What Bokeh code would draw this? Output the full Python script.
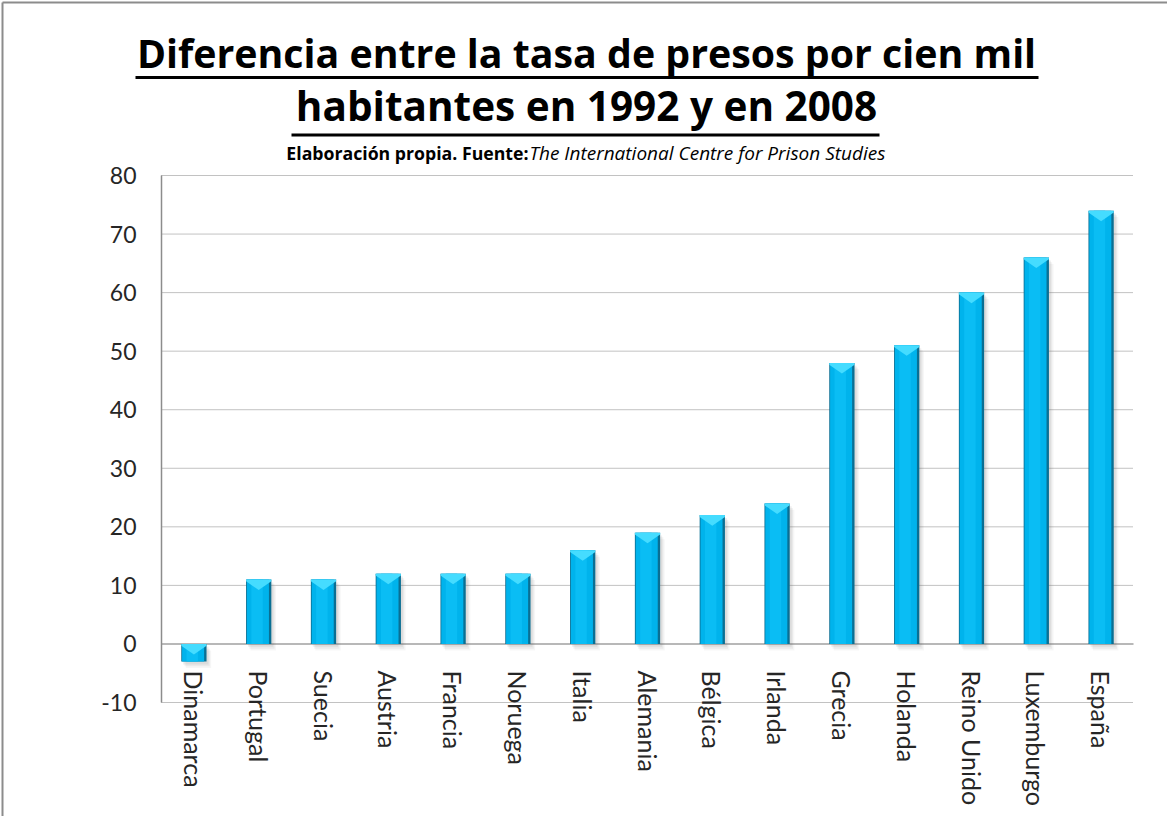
from bokeh.plotting import figure
from bokeh.models import Range1d, FixedTicker
from bokeh.core.properties import value
from bokeh.embed import file_html
from bokeh.resources import INLINE

# ---- data ----
categories = ["Dinamarca", "Portugal", "Suecia", "Austria", "Francia", "Noruega",
              "Italia", "Alemania", "Bélgica", "Irlanda", "Grecia", "Holanda",
              "Reino Unido", "Luxemburgo", "España"]
values = [-3, 11, 11, 12, 12, 12, 16, 19, 22, 24, 48, 51, 60, 66, 74]
y_ticks = [-10, 0, 10, 20, 30, 40, 50, 60, 70, 80]
title_line1 = "Diferencia entre la tasa de presos por cien mil"
title_line2 = "habitantes en 1992 y en 2008"
subtitle_bold = "Elaboración propia. Fuente:"
subtitle_italic = "The International Centre for Prison Studies"

# ---- layout constants (pixels on the page) ----
W, H = 1167, 816
AXIS_X = 161              # where the value axis sits
PLOT_RIGHT = 1133         # right end of the category band
TOP_TICK_Y = 175          # pixel of top tick
BOTTOM_TICK_Y = 702       # pixel of bottom tick
LABEL_TOP_Y = 670         # top of the category labels
TITLE_FONT = "Open Sans"
FONT = "Lato"

n = len(categories)
xs = list(range(1, n + 1))
cat_w = (PLOT_RIGHT - AXIS_X) / n
unit = (BOTTOM_TICK_Y - TOP_TICK_Y) / (y_ticks[-1] - y_ticks[0])


def X(px):
    return 0.5 + (px - AXIS_X) / cat_w


def Y(py):
    return y_ticks[0] + (BOTTOM_TICK_Y - py) / unit


p = figure(width=W, height=H, x_range=Range1d(X(0), X(W)), y_range=Range1d(Y(H), Y(0)),
           output_backend="svg", toolbar_location=None, min_border=0)
p.outline_line_color = None
p.grid.visible = False

x_lo, x_hi = 0.5, n + 0.5

# chart-area border (top and left edges)
p.segment(x0=[X(2), X(2)], y0=[Y(2), Y(2)], x1=[X(W), X(2)], y1=[Y(2), Y(H)],
          line_color="#8c8c8c", line_width=2)

# dotted gridlines (only across the category band)
grid_vals = [t for t in y_ticks if t != 0]
p.segment(x0=[x_lo] * len(grid_vals), y0=grid_vals, x1=[x_hi] * len(grid_vals), y1=grid_vals,
          line_color="#858585", line_dash="1 1", line_width=1)
# category axis line at zero
p.segment(x0=[x_lo], y0=[0], x1=[x_hi], y1=[0], line_color="#a0a0a0", line_width=1.5)

bw = 0.39
tops = [max(v, 0) for v in values]
bots = [min(v, 0) for v in values]

# soft shadow
for dx, dy, a in [(0.03, 0.5, 0.10), (0.05, 0.8, 0.08), (0.07, 1.1, 0.06)]:
    p.vbar(x=[xi + dx for xi in xs], top=[t - dy for t in tops], bottom=[b - dy for b in bots],
           width=bw, fill_color="#606060", fill_alpha=a, line_color=None)

# bar body: dark edge, main fill, bright core
p.vbar(x=xs, top=tops, bottom=bots, width=bw, fill_color="#0a6f93", line_color=None)
p.vbar(x=[xi - 0.012 for xi in xs], top=tops, bottom=bots, width=bw - 0.05,
       fill_color="#00b3ec", line_color=None)
p.vbar(x=[xi - 0.025 for xi in xs], top=tops, bottom=bots, width=bw * 0.45,
       fill_color="#0abdf4", line_color=None)

# top bevel (light chevron)
chev_x = [[xi - bw / 2, xi + bw / 2, xi + bw / 2, xi, xi - bw / 2] for xi in xs]
chev_y = [[t, t, t - 0.3, t - 1.8, t - 0.3] for t in tops]
p.patches(xs=chev_x, ys=chev_y, fill_color="#45dcff", line_color=None)

# value axis line (from lowest to highest tick)
p.segment(x0=[x_lo], y0=[y_ticks[0]], x1=[x_lo], y1=[y_ticks[-1]], line_color="#8c8c8c", line_width=1.5)

# ---- axes ----
p.yaxis.fixed_location = x_lo
p.yaxis.ticker = FixedTicker(ticks=y_ticks)
p.yaxis.major_label_overrides = {-10: "-10"}
p.yaxis.axis_line_color = None
p.yaxis.major_tick_line_color = None
p.yaxis.minor_tick_line_color = None
p.yaxis.major_tick_out = 0
p.yaxis.major_tick_in = 0
p.yaxis.major_label_standoff = 25
p.yaxis.major_label_text_font = FONT
p.yaxis.major_label_text_font_size = "23px"
p.yaxis.major_label_text_color = "#262626"

p.xaxis.fixed_location = y_ticks[0]
p.xaxis.ticker = FixedTicker(ticks=xs)
p.xaxis.major_label_overrides = {xi: c for xi, c in zip(xs, categories)}
p.xaxis.major_label_orientation = "vertical"
p.xaxis.axis_line_color = None
p.xaxis.major_tick_line_color = None
p.xaxis.minor_tick_line_color = None
p.xaxis.major_tick_out = 0
p.xaxis.major_tick_in = 0
p.xaxis.major_label_standoff = LABEL_TOP_Y - BOTTOM_TICK_Y
p.xaxis.major_label_text_font = FONT
p.xaxis.major_label_text_font_size = "25px"
p.xaxis.major_label_text_color = "#262626"

# ---- title (underlined) and subtitle ----
def baseline(py, size, k=0.415):
    # requested anchor so that the rendered alphabetic baseline lands on py
    return Y(py - k * size)


p.text(x=[X(586)], y=[baseline(69, 39.3)], text=[title_line1], text_font=value(TITLE_FONT),
       text_font_style="bold", text_font_size="39.3px", text_align="center",
       text_baseline="alphabetic", text_color="black")
p.text(x=[X(586)], y=[baseline(122, 40.5)], text=[title_line2], text_font=value(TITLE_FONT),
       text_font_style="bold", text_font_size="40.5px", text_align="center",
       text_baseline="alphabetic", text_color="black")
p.segment(x0=[X(135)], y0=[Y(77)], x1=[X(1038)], y1=[Y(77)], line_width=3, line_color="black")
p.segment(x0=[X(291)], y0=[Y(134.5)], x1=[X(879)], y1=[Y(134.5)], line_width=3, line_color="black")

p.text(x=[X(528)], y=[baseline(160, 17.7)], text=[subtitle_bold], text_font=value(TITLE_FONT),
       text_font_style="bold", text_font_size="17.7px", text_align="right",
       text_baseline="alphabetic", text_color="black")
p.text(x=[X(529)], y=[baseline(160, 19)], text=[subtitle_italic], text_font=value(TITLE_FONT),
       text_font_style="italic", text_font_size="19px", text_align="left",
       text_baseline="alphabetic", text_color="black")

open("out.html", "w").write(file_html(p, INLINE))
